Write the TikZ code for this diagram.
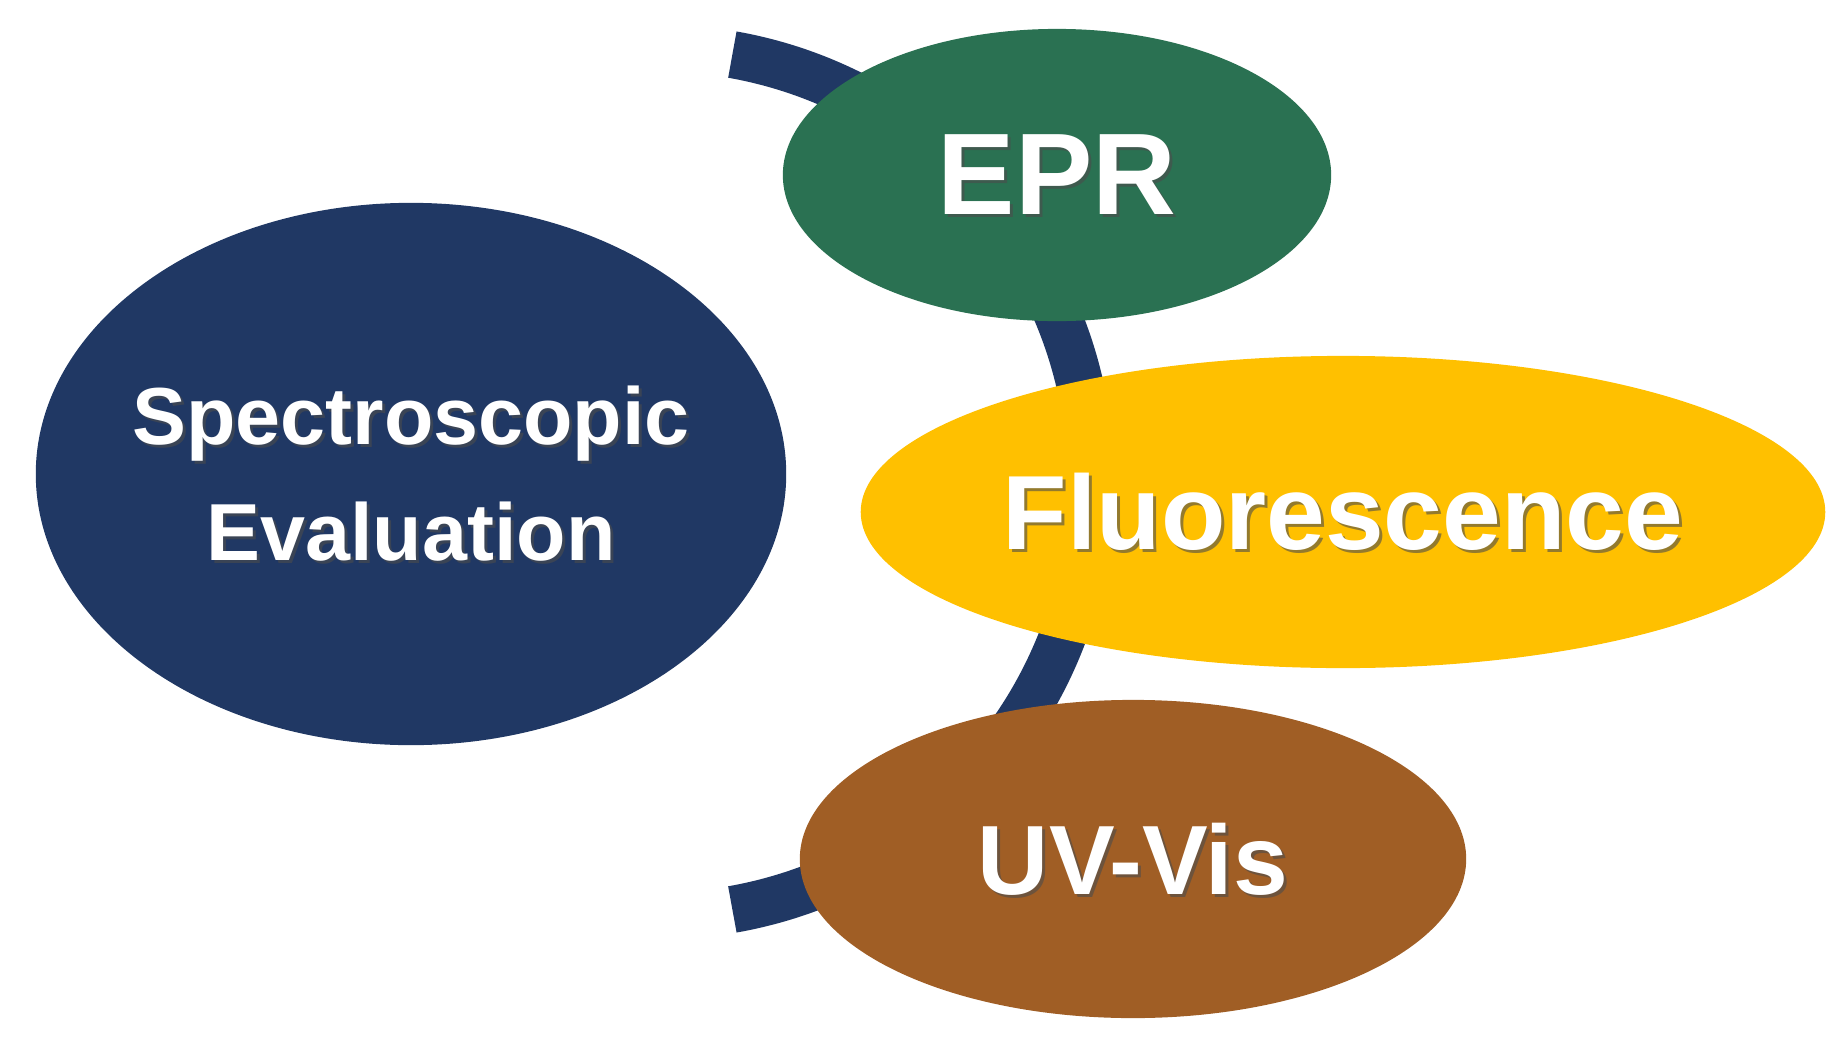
\documentclass[tikz,border=0pt]{standalone}
\usepackage{fontspec}
\setmainfont{Liberation Sans}
\usetikzlibrary{shapes.geometric}
\begin{document}
\begin{tikzpicture}[x=0.01cm,y=-0.01cm,
  blob/.style={ellipse,draw=none,inner sep=0pt},
  lbl/.style={text=white,align=center}]
\useasboundingbox (0,0) rectangle (1841,1045);
\definecolor{navy}{HTML}{203864}
\definecolor{epr}{HTML}{2A7152}
\definecolor{fluo}{HTML}{FFC000}
\definecolor{uv}{HTML}{A05E25}
\coordinate (c) at (657,482);
\draw[navy,line width=0.47cm] ([shift={(80:434)}]c) arc[start angle=80,end angle=-80,radius=434];
\node[blob,fill=navy,minimum width=7.5cm,minimum height=5.42cm] (s) at (411,474) {};
\node[blob,fill=epr,minimum width=5.48cm,minimum height=2.92cm] (e) at (1057,175) {};
\node[blob,fill=fluo,minimum width=9.64cm,minimum height=3.12cm] (f) at (1343,512) {};
\node[blob,fill=uv,minimum width=6.66cm,minimum height=3.18cm] (u) at (1133,859) {};
\foreach \n/\t/\s/\b in {s/{Spectroscopic\\Evaluation}/23/33, e/EPR/33/40, f/Fluorescence/30/36, u/UV-Vis/28/34}{
  \node[lbl,text=black!70,opacity=0.6,font=\fontsize{\s}{\b}\selectfont\bfseries] at ([shift={(3,3)}]\n.center) {\t};
  \node[lbl,font=\fontsize{\s}{\b}\selectfont\bfseries] at (\n.center) {\t};
}
\end{tikzpicture}
\end{document}
